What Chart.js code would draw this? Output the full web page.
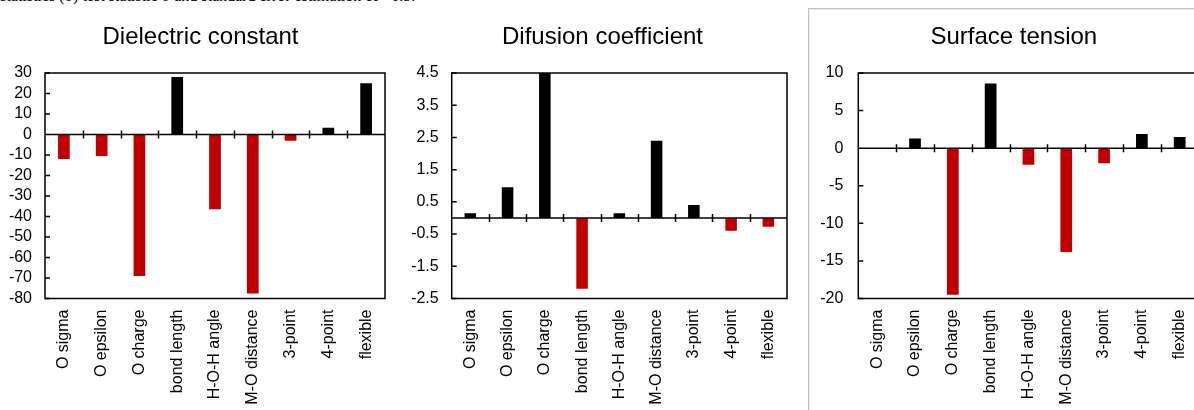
<!DOCTYPE html>
<html>
<head>
<meta charset="utf-8">
<script src="https://cdn.jsdelivr.net/npm/chart.js@4.4.1/dist/chart.umd.min.js"></script>
<style>
html, body { margin: 0; padding: 0; overflow: hidden; background: #fff; }
body { position: relative; width: 1194px; height: 410px; }
.box { position: absolute; top: 0; height: 410px; }
#frame {
    position: absolute; left: 808px; top: 8px; width: 420px; height: 440px;
    border-left: 1px solid #c4c4c4; border-top: 1px solid #c4c4c4;
    box-shadow: inset 1px 1px 0 #ececec;
}
#note {
    position: absolute; left: 0; top: -13.5px; white-space: nowrap;
    font: 16px "Liberation Serif", serif; color: #000;
}
</style>
</head>
<body>
<div id="note">statistics (σ) test statistic σ and standard error estimation of ~0.5.</div>
<div id="frame"></div>
<div class="box" style="left:0px;width:401px"><canvas id="dielectric"></canvas></div>
<div class="box" style="left:400px;width:405px"><canvas id="diffusion"></canvas></div>
<div class="box" style="left:815px;width:390px"><canvas id="tension"></canvas></div>

<script>
const categories = ['O sigma', 'O epsilon', 'O charge', 'bond length', 'H-O-H angle',
    'M-O distance', '3-point', '4-point', 'flexible'];

const dielectricValues = [-12, -10.5, -69, 28, -36.5, -77.5, -3, 3.3, 25];
const dielectricTicks = [30, 20, 10, 0, -10, -20, -30, -40, -50, -60, -70, -80];

const diffusionValues = [0.15, 0.95, 4.5, -2.2, 0.15, 2.4, 0.4, -0.4, -0.27];
const diffusionTicks = [4.5, 3.5, 2.5, 1.5, 0.5, -0.5, -1.5, -2.5];

const tensionValues = [0, 1.3, -19.5, 8.6, -2.2, -13.8, -2, 1.9, 1.5];
const tensionTicks = [10, 5, 0, -5, -10, -15, -20];

const FONT = '"Liberation Sans", Arial, sans-serif';

// box around the plot, zero line, the small tick marks and the heading
const framePlugin = {
    id: 'frame',
    afterDatasetsDraw(chart, args, opts) {
        let ctx = chart.ctx;
        let area = chart.chartArea;
        let y = chart.scales.y;
        let zero = y.getPixelForValue(0);
        let step = (area.right - area.left) / categories.length;

        ctx.save();
        ctx.strokeStyle = '#000';
        ctx.lineWidth = 1.5;
        ctx.strokeRect(area.left, area.top, area.right - area.left, area.bottom - area.top);

        ctx.beginPath();
        ctx.moveTo(area.left, zero);
        ctx.lineTo(area.right, zero);

        for (let i = 1; i < categories.length; i++) {
            let x = Math.round(area.left + i * step) + 0.5;
            ctx.moveTo(x, zero - 4);
            ctx.lineTo(x, zero + 4);
        }

        y.ticks.forEach(t => {
            let py = y.getPixelForValue(t.value);
            ctx.moveTo(area.left, py);
            ctx.lineTo(area.left + 5, py);
        });
        ctx.stroke();

        ctx.fillStyle = '#000';
        ctx.font = '24px ' + FONT;
        ctx.textAlign = 'center';
        ctx.textBaseline = 'alphabetic';
        ctx.fillText(opts.text, opts.x, 44.3);
        ctx.restore();
    }
};

function makeChart(id, title, values, ticks, opts) {
    return new Chart(document.getElementById(id), {
        type: 'bar',
        data: {
            labels: categories,
            datasets: [{
                data: values,
                backgroundColor: c => c.raw < 0 ? '#c00000' : '#000000',
                borderWidth: 0,
                barPercentage: 0.31,
                categoryPercentage: 1
            }]
        },
        options: {
            responsive: true,
            maintainAspectRatio: false,
            animation: false,
            layout: { padding: { left: 0, right: opts.padRight, top: 73, bottom: 0 } },
            plugins: {
                legend: { display: false },
                tooltip: { enabled: false },
                title: { display: false },
                frame: { text: title, x: opts.titleX }
            },
            scales: {
                x: {
                    grid: { display: false, drawTicks: false },
                    border: { display: false },
                    ticks: {
                        color: '#000',
                        font: { family: FONT, size: 16 },
                        minRotation: 90,
                        maxRotation: 90,
                        autoSkip: false,
                        padding: 11
                    },
                    afterFit: s => {
                        s.height = 111.5;
                        s.paddingLeft = 0;
                        s.paddingRight = 0;
                    }
                },
                y: {
                    min: ticks[ticks.length - 1],
                    max: ticks[0],
                    grid: { display: false, drawTicks: false },
                    border: { display: false },
                    ticks: {
                        color: '#000',
                        font: { family: FONT, size: 16 },
                        padding: opts.tickPad,
                        autoSkip: false,
                        callback: v => String(v)
                    },
                    afterBuildTicks: s => {
                        s.ticks = ticks.map(v => ({ value: v }));
                    },
                    afterFit: s => {
                        s.width = opts.yWidth;
                        s.paddingTop = 0;
                        s.paddingBottom = 0;
                    }
                }
            }
        },
        plugins: [framePlugin]
    });
}

makeChart('dielectric', 'Dielectric constant', dielectricValues, dielectricTicks,
    { padRight: 16, yWidth: 45, tickPad: 13, titleX: 200.5 });

makeChart('diffusion', 'Difusion coefficient', diffusionValues, diffusionTicks,
    { padRight: 18, yWidth: 51.7, tickPad: 13, titleX: 202.5 });

makeChart('tension', 'Surface tension', tensionValues, tensionTicks,
    { padRight: 6.4, yWidth: 43.3, tickPad: 15, titleX: 198.8 });
</script>
</body>
</html>
